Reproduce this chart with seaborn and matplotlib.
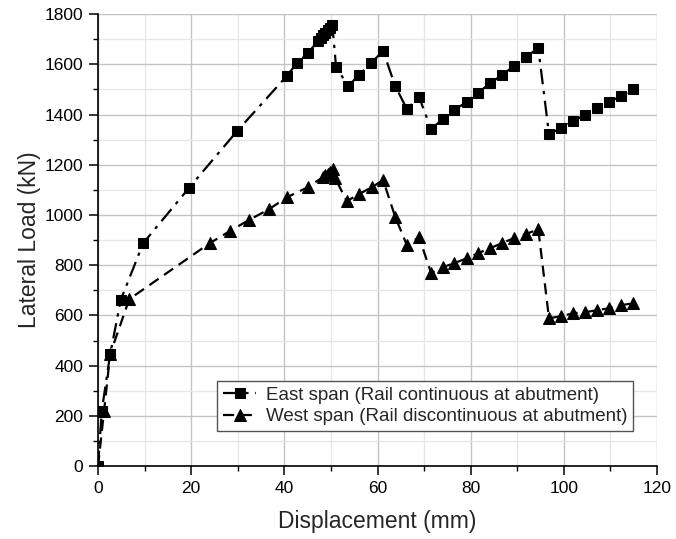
import matplotlib
matplotlib.use("Agg")
import matplotlib.pyplot as plt
from matplotlib.ticker import MultipleLocator
import seaborn as sns
import pandas as pd

east_x = [0, 0.8, 2.6, 4.9, 9.7, 19.5, 29.8, 40.6, 42.7, 45.1, 47.2, 47.8, 48.3, 48.8, 49.3, 49.8, 50.3,
          51.1, 53.7, 56.0, 58.6, 61.2, 63.8, 66.3, 68.9, 71.5, 74.0, 76.4, 79.2, 81.6, 84.2, 86.7,
          89.3, 91.9, 94.5, 96.8, 99.4, 102.0, 104.5, 107.1, 109.7, 112.3, 114.9]
east_y = [0, 220, 445, 663, 888, 1107, 1333, 1555, 1605, 1645, 1693, 1705, 1715, 1725, 1735, 1745, 1756,
          1589, 1513, 1557, 1605, 1653, 1513, 1422, 1470, 1342, 1382, 1418, 1450, 1487, 1525, 1557,
          1593, 1629, 1665, 1322, 1346, 1374, 1398, 1426, 1450, 1474, 1501]

west_x = [0, 1.3, 2.6, 6.7, 24.0, 28.3, 32.4, 36.7, 40.6, 45.1, 48.3, 48.8, 49.3, 49.8, 50.4, 50.9,
          53.4, 56.0, 58.8, 61.2, 63.8, 66.3, 68.9, 71.5, 74.0, 76.4, 79.2, 81.6, 84.2, 86.7, 89.3,
          91.9, 94.5, 96.8, 99.4, 102.0, 104.5, 107.1, 109.7, 112.3, 114.9]
west_y = [0, 220, 446, 665, 888, 936, 980, 1023, 1071, 1111, 1151, 1158, 1163, 1171, 1182, 1147,
          1055, 1083, 1111, 1139, 992, 880, 912, 769, 792, 808, 828, 848, 868, 888, 908,
          924, 944, 589, 597, 609, 613, 621, 629, 641, 649]

east_label = "East span (Rail continuous at abutment)"
west_label = "West span (Rail discontinuous at abutment)"

sns.set_style("white")
plt.rcParams['font.family'] = ['Liberation Sans', 'DejaVu Sans']

fig = plt.figure(figsize=(6.76, 5.39), dpi=100)
ax = fig.add_axes([0.145, 0.135, 0.827, 0.839])

east = pd.DataFrame({"x": east_x, "y": east_y})
west = pd.DataFrame({"x": west_x, "y": west_y})

sns.lineplot(data=east, x="x", y="y", sort=False, ax=ax, color="black", marker="s",
             markersize=7, markeredgecolor="black", linewidth=1.6,
             linestyle=(0, (7, 3, 1.5, 3)), label=east_label)
sns.lineplot(data=west, x="x", y="y", sort=False, ax=ax, color="black", marker="^",
             markersize=8, markeredgecolor="black", linewidth=1.6,
             linestyle=(0, (5, 3)), label=west_label)

ax.set_xlim(0, 120)
ax.set_ylim(0, 1800)
ax.xaxis.set_major_locator(MultipleLocator(20))
ax.xaxis.set_minor_locator(MultipleLocator(10))
ax.yaxis.set_major_locator(MultipleLocator(200))
ax.yaxis.set_minor_locator(MultipleLocator(100))
ax.grid(True, which="major", color="#c4c4c4", linewidth=1.0)
ax.grid(True, which="minor", color="#e6e6e6", linewidth=0.9)
ax.set_axisbelow(True)

for s in ["top", "right"]:
    ax.spines[s].set_visible(False)
for s in ["left", "bottom"]:
    ax.spines[s].set_color("black")
    ax.spines[s].set_linewidth(1.2)

ax.tick_params(which="major", direction="out", length=6.5, width=1.1, colors="black",
               labelsize=12.5, left=True, bottom=True, pad=4)
ax.tick_params(which="minor", direction="out", length=3.6, width=1.0, colors="black",
               left=True, bottom=True)

ax.set_xlabel("Displacement (mm)", fontsize=16.5, labelpad=10)
ax.set_ylabel("Lateral Load (kN)", fontsize=16.5, labelpad=3)

leg = ax.legend(loc="lower left", bbox_to_anchor=(0.213, 0.078), fontsize=13.5,
                frameon=True, fancybox=False, edgecolor="#555555", framealpha=1,
                handlelength=1.8, handletextpad=0.5, borderpad=0.3, labelspacing=0.25,
                borderaxespad=0)
leg.get_frame().set_linewidth(1.0)

fig.savefig("out.png", dpi=100)
